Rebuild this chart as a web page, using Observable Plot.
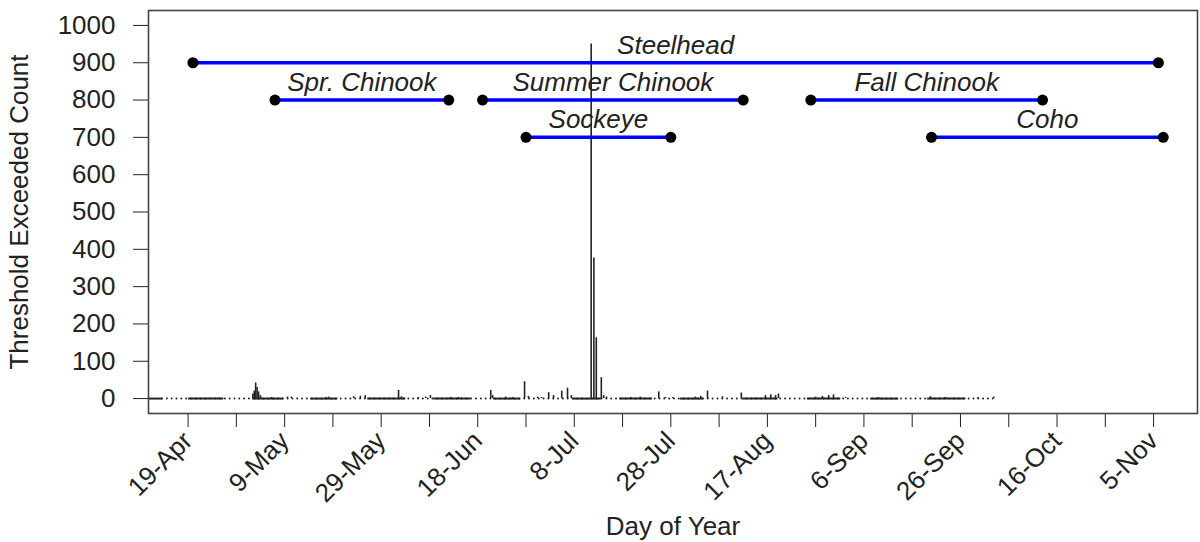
<!DOCTYPE html>
<html>
<head>
<meta charset="utf-8">
<script src="https://cdn.jsdelivr.net/npm/d3@7"></script>
<script src="https://cdn.jsdelivr.net/npm/@observablehq/plot@0.6"></script>
<style>
  html, body { margin: 0; padding: 0; background: #fff; }
  #chart svg { display: block; }
</style>
</head>
<body>
<div id="chart"></div>
<script>
// Axis tick labels (every 20 days), day of year in a non-leap year
const tickLabels = ["19-Apr", "9-May", "29-May", "18-Jun", "8-Jul", "28-Jul",
                    "17-Aug", "6-Sep", "26-Sep", "16-Oct", "5-Nov"];

// Run timing windows by species
const species  = ["Steelhead", "Spr. Chinook", "Summer Chinook", "Sockeye", "Fall Chinook", "Coho"];
const runStart = ["20-Apr", "7-May", "19-Jun", "28-Jun", "26-Aug", "20-Sep"];
const runEnd   = ["6-Nov", "12-Jun", "12-Aug", "28-Jul", "13-Oct", "7-Nov"];
const runLevel = [900, 800, 800, 700, 800, 700];

// Threshold exceedance counts (fractional day of year, count)
const spikeDay = [122.4, 122.7, 123.0, 123.3, 123.6, 124.0, 126.3, 129.6, 130.4, 137.5,
                  138.1, 143.3, 144.7, 145.7, 152.6, 153.2, 156.7, 158.2, 159.2, 163.4,
                  165.0, 171.7, 172.1, 174.8, 176.2, 178.7, 179.5, 181.4, 182.2, 183.7,
                  184.7, 186.4, 187.6, 188.4, 192.5, 193.06, 193.56, 194.6, 195.1, 195.7,
                  200.7, 202.7, 206.5, 207.9, 209.4, 214.1, 215.2, 216.6, 219.7, 223.6,
                  228.6, 229.7, 230.7, 231.3, 239.0, 240.4, 241.7, 242.7, 245.2, 252.0,
                  262.8, 265.9, 272.6, 275.9];
const spikeCount = [12, 20, 42, 30, 18, 8, 3, 4, 4, 3,
                    4, 5, 6, 8, 22, 5, 3, 4, 8, 3,
                    3, 22, 8, 4, 3, 45, 6, 4, 3, 16,
                    8, 20, 28, 8, 950, 377, 163, 56, 8, 4,
                    3, 4, 18, 3, 3, 4, 6, 20, 5, 15,
                    8, 10, 8, 12, 4, 6, 8, 10, 3, 3,
                    5, 3, 3, 4];

// Periods with sub-daily records (continuous zero baseline), day of year
const denseStart = [99.0, 109.1, 122.4, 134.4, 146.2, 159.9, 172.3, 188.8, 198.4, 211.0, 223.9, 237.3, 250.4, 262.2];
const denseEnd   = [103.7, 116.4, 128.8, 140.0, 154.1, 167.6, 177.9, 194.6, 205.2, 215.8, 231.2, 244.2, 256.2, 270.1];
// Whole monitoring period (daily zero records drawn as dots)
const recordFirst = 103.7;
const recordLast = 275.9;

// Helpers: "d-Mon" string <-> day of year (2015, non-leap)
const parse = d3.utcParse("%d-%b-%Y");
const yearStart = Date.UTC(2015, 0, 1);
const doy = s => Math.round((parse(s + "-2015") - yearStart) / 864e5) + 1;

const majorDays = tickLabels.map(doy);
const minorDays = majorDays.map(d => d + 10);
const labelOf = new Map(majorDays.map((d, i) => [d, tickLabels[i]]));

const runs = species.map((name, i) => ({
  name, start: doy(runStart[i]), end: doy(runEnd[i]), level: runLevel[i]
}));
const runEnds = runs.flatMap(r => [{x: r.start, y: r.level}, {x: r.end, y: r.level}]);
const spikes = spikeDay.map((d, i) => ({day: d, n: spikeCount[i]}));
const dense = denseStart.map((s, i) => ({start: s, end: denseEnd[i]}));

const ink = "#222";

const chart = Plot.plot({
  width: 1200,
  height: 542,
  marginLeft: 148,
  marginRight: 3,
  marginTop: 10,
  marginBottom: 129,
  style: {fontFamily: "'Liberation Sans', Arial, sans-serif", fontSize: "26px", color: ink, background: "#fff"},
  x: {domain: [100.8, 318.1]},
  y: {domain: [-40, 1040]},
  marks: [
    // y axis
    Plot.axisY({
      ticks: d3.range(0, 1001, 100),
      tickFormat: d => String(d),
      tickSize: 15,
      tickPadding: 18,
      label: "Threshold Exceeded Count",
      labelAnchor: "center",
      labelArrow: "none",
      labelOffset: 139
    }),
    // minor x ticks
    Plot.axisX({ticks: minorDays, tickSize: 14, tickFormat: () => "", label: null}),
    // labelled x ticks
    Plot.axisX({
      ticks: majorDays,
      tickSize: 14,
      tickPadding: 9,
      tickRotate: -45,
      tickFormat: d => labelOf.get(d),
      label: "Day of Year",
      labelAnchor: "center",
      labelArrow: "none",
      labelOffset: 121
    }),
    // dotted zero baseline (daily records) and solid baseline (sub-daily records)
    Plot.ruleY([0], {x1: recordFirst, x2: recordLast, stroke: ink, strokeWidth: 2,
                     strokeDasharray: "0 4.83", strokeLinecap: "round"}),
    Plot.ruleY(dense, {y: 0, x1: "start", x2: "end", stroke: ink, strokeWidth: 2, clip: true}),
    // exceedance spikes
    Plot.ruleX(spikes, {x: "day", y1: 0, y2: "n", stroke: ink, strokeWidth: 1.6}),
    // run timing windows
    Plot.ruleY(runs, {y: "level", x1: "start", x2: "end", stroke: "#0000ff", strokeWidth: 3.5}),
    Plot.dot(runEnds, {x: "x", y: "y", r: 5.5, fill: "#000", stroke: null}),
    Plot.text(runs, {
      x: r => (r.start + r.end) / 2, y: "level", text: "name",
      dy: -9, lineAnchor: "bottom", fontStyle: "italic", fontSize: 26, fill: ink
    }),
    Plot.frame({stroke: "#444", strokeWidth: 1.6})
  ]
});

document.getElementById("chart").append(chart);
</script>
</body>
</html>
